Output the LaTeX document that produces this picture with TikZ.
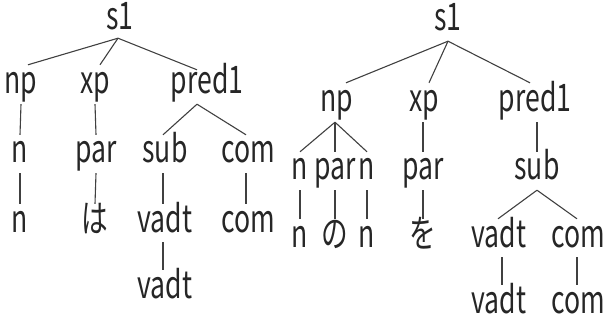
\documentclass[tikz,border=0pt]{standalone}
\usepackage{fontspec}
\usepackage{graphicx}
\setmainfont{Noto Sans CJK JP}
\newcommand\sx[1]{\scalebox{0.7}[1]{#1}}
\begin{document}
\begin{tikzpicture}[x=1pt,y=1pt,
  lbl/.style={anchor=base,inner xsep=0pt,inner ysep=0pt,text height=28pt,text depth=10pt,
    font=\fontsize{38}{38}\selectfont,text=black!85},
  root/.style={lbl,text height=20pt},
  edge/.style={draw=black!75,line width=1.1pt}]
\useasboundingbox (0,0) rectangle (604,-320);
% left tree
\node[root] (Ls1) at (120,-30) {\sx{s1}};
\node[lbl] (Lnp) at (21,-94) {\sx{np}};
\node[lbl] (Lxp) at (95,-94) {\sx{xp}};
\node[lbl] (Lpred) at (207,-94) {\sx{pred1}};
\node[lbl] (Ln1) at (20,-163) {\sx{n}};
\node[lbl] (Lpar) at (96,-163) {\sx{par}};
\node[lbl] (Lsub) at (165,-163) {\sx{sub}};
\node[lbl] (Lcom) at (248,-163) {\sx{com}};
\node[lbl] (Ln2) at (20,-232) {\sx{n}};
\node[lbl] (Lha) at (95,-232) {\sx{は}};
\node[lbl] (Lvadt) at (165,-232) {\sx{vadt}};
\node[lbl] (Lcom2) at (248,-232) {\sx{com}};
\node[lbl] (Lvadt2) at (165,-298) {\sx{vadt}};
\draw[edge] ([xshift=-2pt,yshift=2pt]Ls1.south) -- ([xshift=7pt,yshift=1pt]Lnp.north);
\draw[edge] ([xshift=-2pt,yshift=2pt]Ls1.south) -- ([xshift=5pt,yshift=1pt]Lxp.north);
\draw[edge] ([xshift=-2pt,yshift=2pt]Ls1.south) -- ([xshift=-10pt,yshift=-4pt]Lpred.north);
\draw[edge] (Lnp.south) -- (Ln1.north);
\draw[edge] (Lxp.south) -- (Lpar.north);
\draw[edge] ([xshift=-10pt]Lpred.south) -- ([xshift=-2pt]Lsub.north);
\draw[edge] ([xshift=-10pt]Lpred.south) -- ([xshift=-2pt]Lcom.north);
\draw[edge] (Ln1.south) -- (Ln2.north);
\draw[edge] (Lpar.south) -- (Lha.north);
\draw[edge] ([xshift=-2pt]Lsub.south) -- ([xshift=-2pt]Lvadt.north);
\draw[edge] ([xshift=-2pt]Lcom.south) -- ([xshift=-2pt]Lcom2.north);
\draw[edge] ([xshift=-2pt]Lvadt.south) -- ([xshift=-2pt]Lvadt2.north);
% right tree
\node[root] (Rs1) at (448,-31) {\sx{s1}};
\node[lbl] (Rnp) at (337,-112) {\sx{np}};
\node[lbl] (Rxp) at (424,-112) {\sx{xp}};
\node[lbl] (Rpred) at (535,-112) {\sx{pred1}};
\node[lbl] (Rn1) at (300,-180) {\sx{n}};
\node[lbl] (Rpar1) at (335,-180) {\sx{par}};
\node[lbl] (Rn2) at (367,-180) {\sx{n}};
\node[lbl] (Rpar2) at (423,-180) {\sx{par}};
\node[lbl] (Rsub) at (537,-180) {\sx{sub}};
\node[lbl] (Rn3) at (300,-247) {\sx{n}};
\node[lbl] (Rno) at (335,-247) {\sx{の}};
\node[lbl] (Rn4) at (367,-247) {\sx{n}};
\node[lbl] (Rwo) at (423,-247) {\sx{を}};
\node[lbl] (Rvadt) at (499,-247) {\sx{vadt}};
\node[lbl] (Rcom) at (578,-247) {\sx{com}};
\node[lbl] (Rvadt2) at (499,-313) {\sx{vadt}};
\node[lbl] (Rcom2) at (578,-313) {\sx{com}};
\draw[edge] (Rs1.south) -- ([xshift=9pt,yshift=1pt]Rnp.north);
\draw[edge] (Rs1.south) -- ([xshift=5pt,yshift=1pt]Rxp.north);
\draw[edge] (Rs1.south) -- ([xshift=-5pt,yshift=1pt]Rpred.north);
\draw[edge] ([xshift=-2pt]Rnp.south) -- (Rn1.north);
\draw[edge] ([xshift=-2pt]Rnp.south) -- (Rpar1.north);
\draw[edge] ([xshift=-2pt]Rnp.south) -- (Rn2.north);
\draw[edge] ([xshift=-1pt]Rxp.south) -- (Rpar2.north);
\draw[edge] ([xshift=2pt]Rpred.south) -- (Rsub.north);
\draw[edge] (Rn1.south) -- (Rn3.north);
\draw[edge] (Rpar1.south) -- (Rno.north);
\draw[edge] (Rn2.south) -- (Rn4.north);
\draw[edge] (Rpar2.south) -- (Rwo.north);
\draw[edge] (Rsub.south) -- ([xshift=-1pt]Rvadt.north);
\draw[edge] (Rsub.south) -- ([xshift=-1pt]Rcom.north);
\draw[edge] ([xshift=3pt]Rvadt.south) -- ([xshift=3pt]Rvadt2.north);
\draw[edge] ([xshift=-1pt]Rcom.south) -- ([xshift=-1pt]Rcom2.north);
\end{tikzpicture}
\end{document}
